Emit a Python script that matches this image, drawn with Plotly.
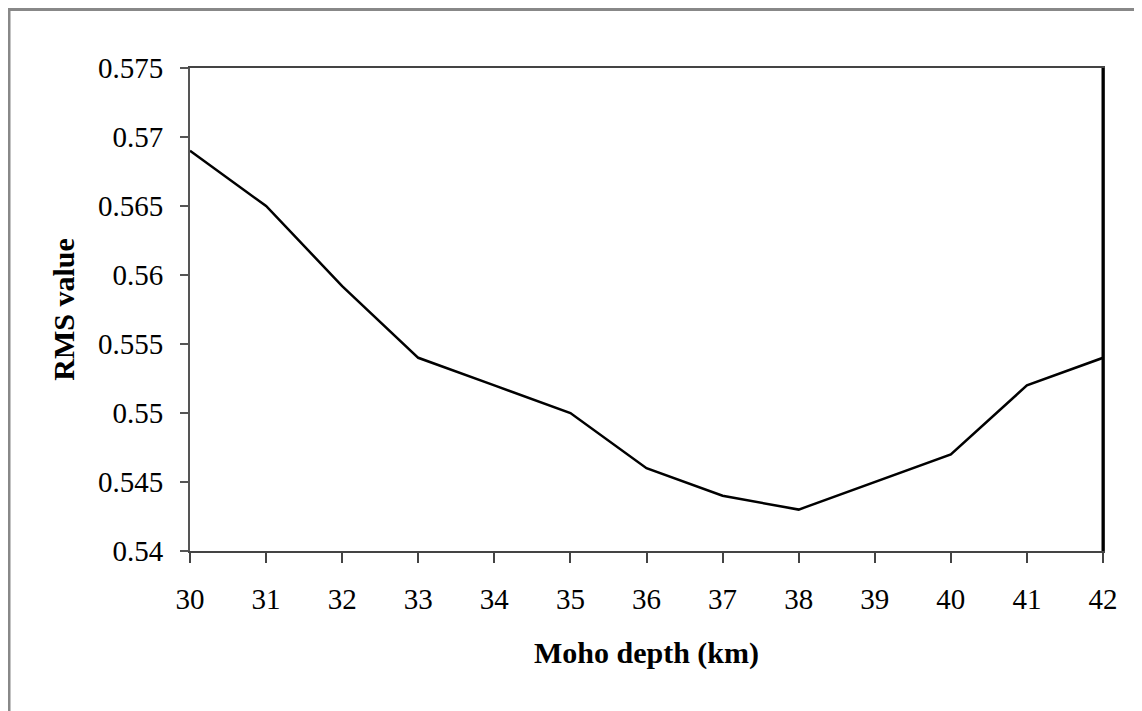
import plotly.graph_objects as go

depth_km = [30, 31, 32, 33, 34, 35, 36, 37, 38, 39, 40, 41, 42]
rms_value = [0.569, 0.565, 0.5592, 0.554, 0.552, 0.550, 0.546, 0.544, 0.543, 0.545, 0.547, 0.552, 0.554]
y_ticks = [0.54, 0.545, 0.55, 0.555, 0.56, 0.565, 0.57, 0.575]
y_tick_text = ["0.54", "0.545", "0.55", "0.555", "0.56", "0.565", "0.57", "0.575"]

# page offset from default body margin
OFF = 8
W, H = 1142 - OFF, 711 - OFF
L, R, T, B = 190 - OFF, 1103 - OFF, 68 - OFF, 551 - OFF
pw, ph = R - L, B - T

def px(x):
    return (x - OFF - L) / pw

def py(y):
    return (B - (y - OFF)) / ph

fig = go.Figure()
fig.add_trace(go.Scatter(x=depth_km, y=rms_value, mode="lines",
                         line=dict(color="black", width=2.5), showlegend=False))

tick_font = dict(family="Liberation Serif, Times New Roman, serif", size=29, color="black")
title_font = dict(family="Liberation Serif, Times New Roman, serif", size=30, color="black")

fig.update_layout(
    width=W, height=H,
    margin=dict(l=L, r=W - R, t=T, b=H - B),
    paper_bgcolor="white", plot_bgcolor="white",
    font=tick_font,
    xaxis=dict(range=[30, 42], tickvals=depth_km, ticktext=[str(v) for v in depth_km],
               showgrid=False, zeroline=False, showline=True, linecolor="#444", linewidth=2,
               mirror=True, ticks="outside", ticklen=10, tickwidth=2, tickcolor="#444",
               tickfont=tick_font, ticklabelstandoff=11,
               title=dict(text="<b>Moho depth (km)</b>", font=title_font, standoff=28)),
    yaxis=dict(range=[0.54, 0.575], tickvals=y_ticks, ticktext=y_tick_text,
               showgrid=False, zeroline=False, showline=True, linecolor="#555", linewidth=2,
               mirror=True, ticks="outside", ticklen=8, tickwidth=2, tickcolor="#555",
               tickfont=tick_font, ticklabelstandoff=11,
               title=dict(text="<b>RMS value</b>", font=title_font, standoff=14)),
    shapes=[
        # outer gray frame (left and top edges visible)
        dict(type="line", xref="paper", yref="paper", x0=px(9), x1=px(9), y0=py(6), y1=py(740),
             line=dict(color="#888", width=3)),
        dict(type="line", xref="paper", yref="paper", x0=px(8), x1=px(1170), y0=py(9.5), y1=py(9.5),
             line=dict(color="#888", width=3)),
        # thicker right border of plot area
        dict(type="line", xref="paper", yref="paper", x0=1, x1=1, y0=0, y1=1,
             line=dict(color="black", width=3)),
    ],
)

fig.write_html("out.html")
